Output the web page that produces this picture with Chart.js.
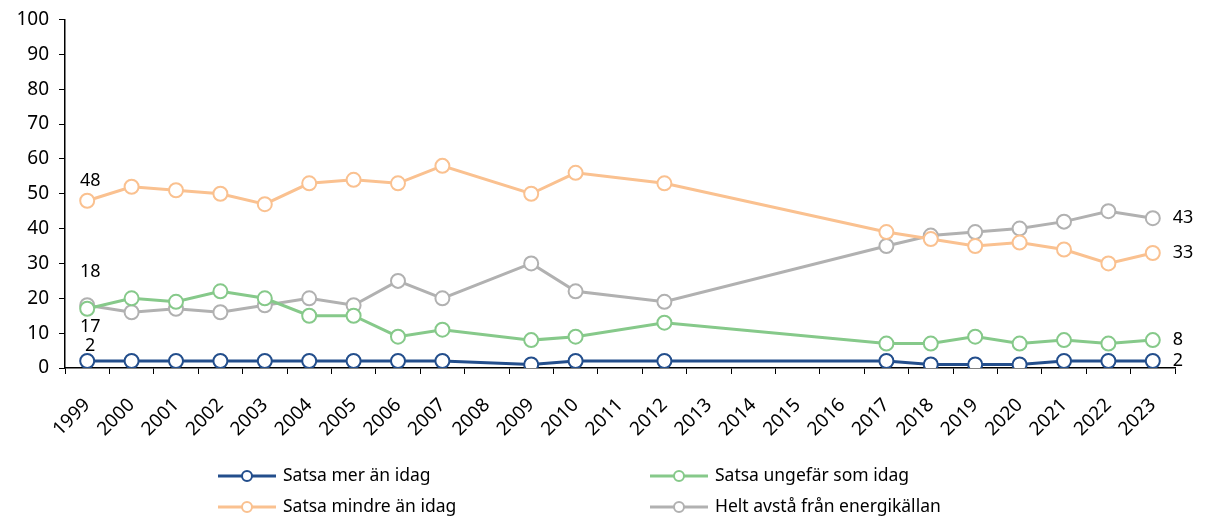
<!DOCTYPE html>
<html>
<head>
<meta charset="utf-8">
<script src="https://cdn.jsdelivr.net/npm/chart.js@4/dist/chart.umd.min.js"></script>
<style>
  html, body { margin: 0; padding: 0; background: #fff; }
  #wrap { width: 1205px; height: 523px; }
</style>
</head>
<body>
<div id="wrap"><canvas id="c" width="1205" height="523"></canvas></div>
<script>
/* ── Data (null = no survey that year) ───────────────────── */
const years = ['1999','2000','2001','2002','2003','2004','2005','2006','2007','2008',
               '2009','2010','2011','2012','2013','2014','2015','2016','2017','2018',
               '2019','2020','2021','2022','2023'];
const satsaMer      = [2, 2, 2, 2, 2, 2, 2, 2, 2, null, 1, 2, null, 2, null, null, null, null, 2, 1, 1, 1, 2, 2, 2];
const satsaUngefar  = [17, 20, 19, 22, 20, 15, 15, 9, 11, null, 8, 9, null, 13, null, null, null, null, 7, 7, 9, 7, 8, 7, 8];
const satsaMindre   = [48, 52, 51, 50, 47, 53, 54, 53, 58, null, 50, 56, null, 53, null, null, null, null, 39, 37, 35, 36, 34, 30, 33];
const heltAvsta     = [18, 16, 17, 16, 18, 20, 18, 25, 20, null, 30, 22, null, 19, null, null, null, null, 35, 38, 39, 40, 42, 45, 43];
const yTicks = [0, 10, 20, 30, 40, 50, 60, 70, 80, 90, 100];

/* ── Design tokens ───────────────────────────────────────── */
const COLORS = {
    mer: '#234e8c',
    ungefar: '#86c98a',
    mindre: '#fac190',
    avsta: '#b1b1b1',
    text: '#000',
};
const FONT = '"Noto Sans", "Open Sans", sans-serif';

function series(label, data, color) {
    return {
        label,
        data,
        borderColor: color,
        backgroundColor: '#fff',
        borderWidth: 3,
        pointRadius: 7,
        pointBorderWidth: 2,
        pointBackgroundColor: '#fff',
        pointBorderColor: color,
        spanGaps: true,
        tension: 0,
    };
}

/* ── End-point value labels ─────────────────────────────── */
// vertical offset of the first-point label centre (negative = above)
const firstLabelDy = [-15, 18, -20, -33];

const valueLabels = {
    id: 'valueLabels',
    afterDatasetsDraw(chart) {
        const ctx = chart.ctx;
        ctx.save();
        ctx.font = '18px ' + FONT;
        ctx.fillStyle = COLORS.text;
        ctx.textBaseline = 'middle';
        chart.data.datasets.forEach((ds, i) => {
            const meta = chart.getDatasetMeta(i);
            const first = meta.data[0];
            const last = meta.data[meta.data.length - 1];
            ctx.textAlign = 'center';
            ctx.fillText(ds.data[0], first.x + 3, first.y + firstLabelDy[i]);
            ctx.textAlign = 'left';
            ctx.fillText(ds.data[ds.data.length - 1], last.x + 20, last.y);
        });
        ctx.restore();
    }
};

/* ── Two-column legend drawn below the axis ──────────────── */
const gridLegend = {
    id: 'gridLegend',
    afterDraw(chart) {
        const ctx = chart.ctx;
        const cols = [218, 650];
        const rows = [476, 507];
        ctx.save();
        ctx.font = '17.5px ' + FONT;
        ctx.textBaseline = 'middle';
        ctx.textAlign = 'left';
        chart.data.datasets.forEach((ds, i) => {
            const x = cols[i % 2];
            const y = rows[Math.floor(i / 2)];
            ctx.strokeStyle = ds.borderColor;
            ctx.lineWidth = 3;
            ctx.beginPath();
            ctx.moveTo(x, y);
            ctx.lineTo(x + 58, y);
            ctx.stroke();
            ctx.beginPath();
            ctx.arc(x + 29, y, 5, 0, Math.PI * 2);
            ctx.fillStyle = '#fff';
            ctx.fill();
            ctx.lineWidth = 2;
            ctx.stroke();
            ctx.fillStyle = COLORS.text;
            ctx.fillText(ds.label, x + 65, y);
        });
        ctx.restore();
    }
};

new Chart(document.getElementById('c'), {
    type: 'line',
    data: {
        labels: years,
        datasets: [
            series('Satsa mer än idag', satsaMer, COLORS.mer),
            series('Satsa ungefär som idag', satsaUngefar, COLORS.ungefar),
            series('Satsa mindre än idag', satsaMindre, COLORS.mindre),
            series('Helt avstå från energikällan', heltAvsta, COLORS.avsta),
        ],
    },
    options: {
        responsive: false,
        animation: false,
        devicePixelRatio: 1,
        layout: { padding: { top: 19, right: 30, bottom: 85, left: 0 } },
        plugins: {
            legend: { display: false },
            tooltip: { enabled: false },
        },
        scales: {
            x: {
                offset: true,
                afterFit(scale) { scale.height = 70; },
                grid: {
                    display: true,
                    drawOnChartArea: false,
                    offset: true,
                    color: '#000',
                    tickLength: 6,
                    tickWidth: 1,
                },
                border: { color: '#000', width: 1.5 },
                ticks: {
                    color: COLORS.text,
                    font: { size: 19, family: FONT },
                    minRotation: 45,
                    maxRotation: 45,
                    autoSkip: false,
                    padding: 20,
                },
            },
            y: {
                min: 0,
                max: 100,
                afterFit(scale) { scale.width = 65; },
                afterBuildTicks(axis) {
                    axis.ticks = yTicks.map(v => ({ value: v }));
                },
                grid: {
                    display: true,
                    drawOnChartArea: false,
                    color: '#000',
                    tickLength: 6,
                },
                border: { color: '#000', width: 1.5 },
                ticks: {
                    color: COLORS.text,
                    font: { size: 19, family: FONT, lineHeight: 1 },
                    padding: 10,
                },
            },
        },
    },
    plugins: [valueLabels, gridLegend],
});
</script>
</body>
</html>
